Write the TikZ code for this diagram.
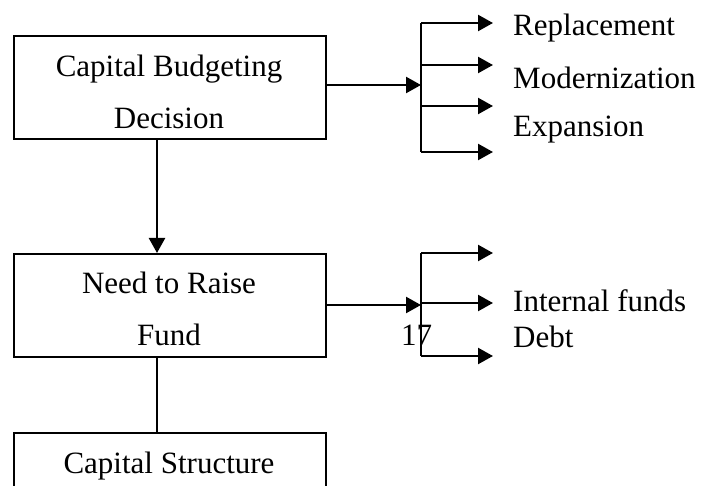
\documentclass[tikz,border=0pt]{standalone}
\usepackage{fontspec}
\setmainfont{Liberation Serif}
\usetikzlibrary{arrows.meta}
\begin{document}
\begin{tikzpicture}[x=1pt,y=-1pt,
  box/.style={draw,line width=2.3pt,minimum width=312pt,inner sep=0pt,anchor=north west},
  txt/.style={inner sep=0pt,font=\fontsize{31}{37}\selectfont},
  conn/.style={line width=2.3pt},
  arr/.style={line width=2.3pt,-{Triangle[length=15pt,width=16pt]}}]
\useasboundingbox (0,0) rectangle (702,486);
\clip (0,0) rectangle (702,486);
% boxes
\node[box,minimum height=103pt] (b1) at (13,35) {};
\node[box,minimum height=103pt] (b2) at (13,253) {};
\node[box,minimum height=110pt] (b3) at (13,432) {};
% box texts
\node[txt,anchor=base] (t1a) at (169,77) {Capital Budgeting};
\node[txt,anchor=base] (t1b) at (169,129) {Decision};
\node[txt,anchor=base] (t2a) at (169,294) {Need to Raise};
\node[txt,anchor=base] (t2b) at (169,346) {Fund};
\node[txt,anchor=base] (t3a) at (169,473) {Capital Structure};
% right labels
\node[txt,anchor=base west] (l1) at (513,36) {Replacement};
\node[txt,anchor=base west] (l2) at (513,89) {Modernization};
\node[txt,anchor=base west] (l3) at (513,137) {Expansion};
\node[txt,anchor=base west] (l4) at (513,312) {Internal funds};
\node[txt,anchor=base west] (l5) at (513,348) {Debt};
\node[txt,anchor=base west] (n17) at (401,346) {17};
% bracket coordinates (upper)
\coordinate (h1) at (421,85);
\coordinate (u1) at (421,23);
\coordinate (u2) at (421,65);
\coordinate (u3) at (421,106);
\coordinate (u4) at (421,152);
\coordinate (e1) at (493,23);
\coordinate (e2) at (493,65);
\coordinate (e3) at (493,106);
\coordinate (e4) at (493,152);
% bracket coordinates (lower)
\coordinate (h2) at (421,305);
\coordinate (w1) at (421,253);
\coordinate (w2) at (421,303);
\coordinate (w3) at (421,356);
\coordinate (f1) at (493,253);
\coordinate (f2) at (493,303);
\coordinate (f3) at (493,356);
% connectors
\draw[arr] (b1.east |- h1) -- (h1);
\draw[conn] (u1) -- (u4);
\draw[arr] (u1) -- (e1);
\draw[arr] (u2) -- (e2);
\draw[arr] (u3) -- (e3);
\draw[arr] (u4) -- (e4);
\draw[arr] (b1.south -| 157,0) -- (b2.north -| 157,0);
\draw[arr] (b2.east |- h2) -- (h2);
\draw[conn] (w1) -- (w3);
\draw[arr] (w1) -- (f1);
\draw[arr] (w2) -- (f2);
\draw[arr] (w3) -- (f3);
\draw[conn] (b2.south -| 157,0) -- (b3.north -| 157,0);
\end{tikzpicture}
\end{document}
